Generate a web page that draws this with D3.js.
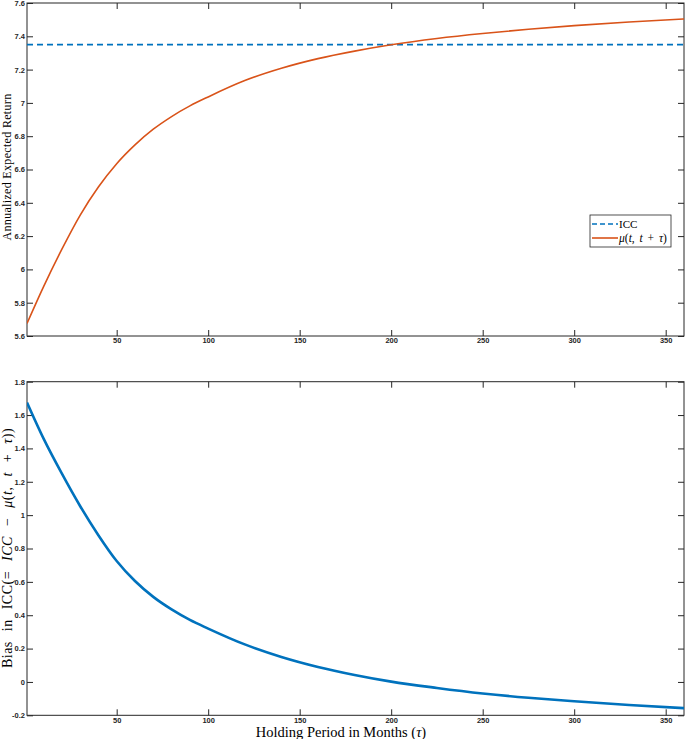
<!DOCTYPE html>
<html>
<head>
<meta charset="utf-8">
<script src="https://cdn.jsdelivr.net/npm/d3@7"></script>
<style>
  html, body { margin: 0; padding: 0; background: #fff; }
  svg { display: block; }
</style>
</head>
<body>
<script>
// ---- data ----
const months = [1, 10, 20, 30, 40, 50, 60, 70, 80, 90, 100, 120, 140, 160, 180, 200, 225, 250, 275, 300, 330, 360];
const muValues = [5.675, 5.895, 6.12, 6.325, 6.495, 6.635, 6.748, 6.842, 6.918, 6.982, 7.036, 7.134, 7.208, 7.266, 7.311, 7.349, 7.387, 7.417, 7.442, 7.464, 7.486, 7.504];
const biasValues = [1.675, 1.46, 1.25, 1.055, 0.88, 0.725, 0.605, 0.51, 0.435, 0.372, 0.32, 0.225, 0.15, 0.09, 0.042, 0.002, -0.036, -0.069, -0.095, -0.116, -0.138, -0.157];
const iccValue = 7.35;
const xTicks = [50, 100, 150, 200, 250, 300, 350];
const topYTicks = [5.6, 5.8, 6, 6.2, 6.4, 6.6, 6.8, 7, 7.2, 7.4, 7.6];
const botYTicks = [-0.2, 0, 0.2, 0.4, 0.6, 0.8, 1, 1.2, 1.4, 1.6, 1.8];

const W = 685, H = 739;
const svg = d3.select("body").append("svg").attr("width", W).attr("height", H);

const axisColor = "#262626";
const blue = "#0072BD", orange = "#D95319";
const tickFont = "Liberation Sans, Arial, sans-serif";
const serif = "Liberation Serif, Times New Roman, serif";

const x = d3.scaleLinear().domain([1, 360]).range([27, 684]);

// widen a text (letter- or word-spacing) so its unrotated width matches a target
function spreadText(sel, target, mode, cap) {
  const n = sel.node();
  const w = n.getBBox().width;
  const txt = n.textContent;
  if (!(w > 0) || w >= target) return;
  if (mode === "word") {
    const nsp = (txt.match(/ /g) || []).length;
    if (nsp) sel.style("word-spacing", Math.min(cap || 99, (target - w) / nsp).toFixed(2) + "px");
  } else {
    sel.style("letter-spacing", Math.min(cap || 1.2, (target - w) / txt.length).toFixed(2) + "px");
  }
}
function fitText(sel, target, maxFs) {
  const len = sel.node().getBBox().width;
  const fs = parseFloat(sel.style("font-size"));
  const nf = len > 0 ? Math.min(maxFs, fs * target / len) : fs;
  sel.style("font-size", nf.toFixed(2) + "px");
}

function panel(top, bottom, yDomain, yTicks) {
  const y = d3.scaleLinear().domain(yDomain).range([bottom, top]);
  const g = svg.append("g");
  const tl = 6;
  const axB = g.append("g").attr("transform", `translate(0,${bottom})`)
    .call(d3.axisBottom(x).tickValues(xTicks).tickSize(-tl).tickPadding(4).tickFormat(d3.format("d")));
  const axT = g.append("g").attr("transform", `translate(0,${top})`)
    .call(d3.axisTop(x).tickValues(xTicks).tickSize(-tl).tickFormat(""));
  const axL = g.append("g").attr("transform", `translate(${x.range()[0]},0)`)
    .call(d3.axisLeft(y).tickValues(yTicks).tickSize(-tl).tickPadding(2).tickFormat(d => String(+d.toFixed(1))));
  const axR = g.append("g").attr("transform", `translate(${x.range()[1]},0)`)
    .call(d3.axisRight(y).tickValues(yTicks).tickSize(-tl).tickFormat(""));
  [axB, axT, axL, axR].forEach(a => {
    a.select(".domain").remove();
    a.selectAll("line").attr("stroke", axisColor).attr("stroke-width", 1);
    a.selectAll("text").attr("fill", axisColor).style("font-family", tickFont)
      .style("font-size", "7.5px").style("font-weight", "bold");
  });
  axB.selectAll("text").attr("dy", "0.45em");
  g.append("rect").attr("x", x.range()[0]).attr("y", top)
    .attr("width", x.range()[1] - x.range()[0]).attr("height", bottom - top)
    .attr("fill", "none").attr("stroke", axisColor).attr("stroke-width", 1);
  return { g, y };
}

function mathText(sel, parts) {
  parts.forEach(([t, it]) => {
    const s = sel.append("tspan").text(t);
    if (it) s.style("font-style", "italic");
  });
}

// ---- top panel ----
const p1 = panel(3, 336, [5.6, 7.6], topYTicks);
svg.append("clipPath").attr("id", "c1").append("rect")
  .attr("x", 27).attr("y", 3).attr("width", 657).attr("height", 333);
p1.g.append("line")
  .attr("x1", x(1)).attr("x2", x(360)).attr("y1", p1.y(iccValue)).attr("y2", p1.y(iccValue))
  .attr("stroke", blue).attr("stroke-width", 1.6).attr("stroke-dasharray", "6,4");
const muData = months.map((m, i) => [m, muValues[i]]);
p1.g.append("path").datum(muData)
  .attr("clip-path", "url(#c1)")
  .attr("fill", "none").attr("stroke", orange).attr("stroke-width", 1.6)
  .attr("d", d3.line().x(d => x(d[0])).y(d => p1.y(d[1])).curve(d3.curveMonotoneX));

// legend
const lg = svg.append("g");
lg.append("rect").attr("x", 590).attr("y", 215).attr("width", 81).attr("height", 32)
  .attr("fill", "#fff").attr("stroke", axisColor).attr("stroke-width", 0.8);
lg.append("line").attr("x1", 592).attr("x2", 618).attr("y1", 224).attr("y2", 224)
  .attr("stroke", blue).attr("stroke-width", 1.6).attr("stroke-dasharray", "5,3");
lg.append("line").attr("x1", 592).attr("x2", 618).attr("y1", 238).attr("y2", 238)
  .attr("stroke", orange).attr("stroke-width", 1.6);
lg.append("text").attr("x", 619).attr("y", 228).style("font-family", serif)
  .style("font-size", "11px").attr("fill", "#000").text("ICC");
const t2 = lg.append("text").attr("x", 619).attr("y", 242).style("font-family", serif)
  .style("font-size", "11.5px").attr("fill", "#000");
mathText(t2, [["μ", 1], ["(", 0], ["t", 1], [", ", 0], ["t", 1], [" + ", 0], ["τ", 1], [")", 0]]);
spreadText(t2, 49, "word", 2.5);

// y label top
const yl1 = svg.append("text").attr("transform", `translate(11,167) rotate(-90)`)
  .attr("text-anchor", "middle").style("font-family", serif).style("font-size", "12px")
  .attr("fill", "#000").text("Annualized Expected Return");
spreadText(yl1, 147, "letter");

// ---- bottom panel ----
const p2 = panel(381.7, 715.3, [-0.2, 1.8], botYTicks);
const biasData = months.map((m, i) => [m, biasValues[i]]);
svg.append("clipPath").attr("id", "c2").append("rect")
  .attr("x", 27).attr("y", 381.7).attr("width", 657).attr("height", 333.6);
p2.g.append("path").datum(biasData)
  .attr("clip-path", "url(#c2)")
  .attr("fill", "none").attr("stroke", blue).attr("stroke-width", 2.6)
  .attr("d", d3.line().x(d => x(d[0])).y(d => p2.y(d[1])).curve(d3.curveMonotoneX));

const yl2 = svg.append("text").attr("transform", `translate(12,548) rotate(-90)`)
  .attr("text-anchor", "middle").style("font-family", serif).style("font-size", "14px")
  .style("letter-spacing", "0.5px").attr("fill", "#000");
mathText(yl2, [["Bias in ICC(= ", 0], ["ICC", 1], [" − ", 0], ["μ", 1], ["(", 0], ["t", 1], [", ", 0], ["t", 1], [" + ", 0], ["τ", 1], ["))", 0]]);
spreadText(yl2, 249, "word", 6);

const xl = svg.append("text").attr("x", 341).attr("y", 737).attr("text-anchor", "middle")
  .style("font-family", serif).style("font-size", "12.5px").attr("fill", "#000");
mathText(xl, [["Holding Period in Months (", 0], ["τ", 1], [")", 0]]);
fitText(xl, 174, 14.5);
</script>
</body>
</html>
